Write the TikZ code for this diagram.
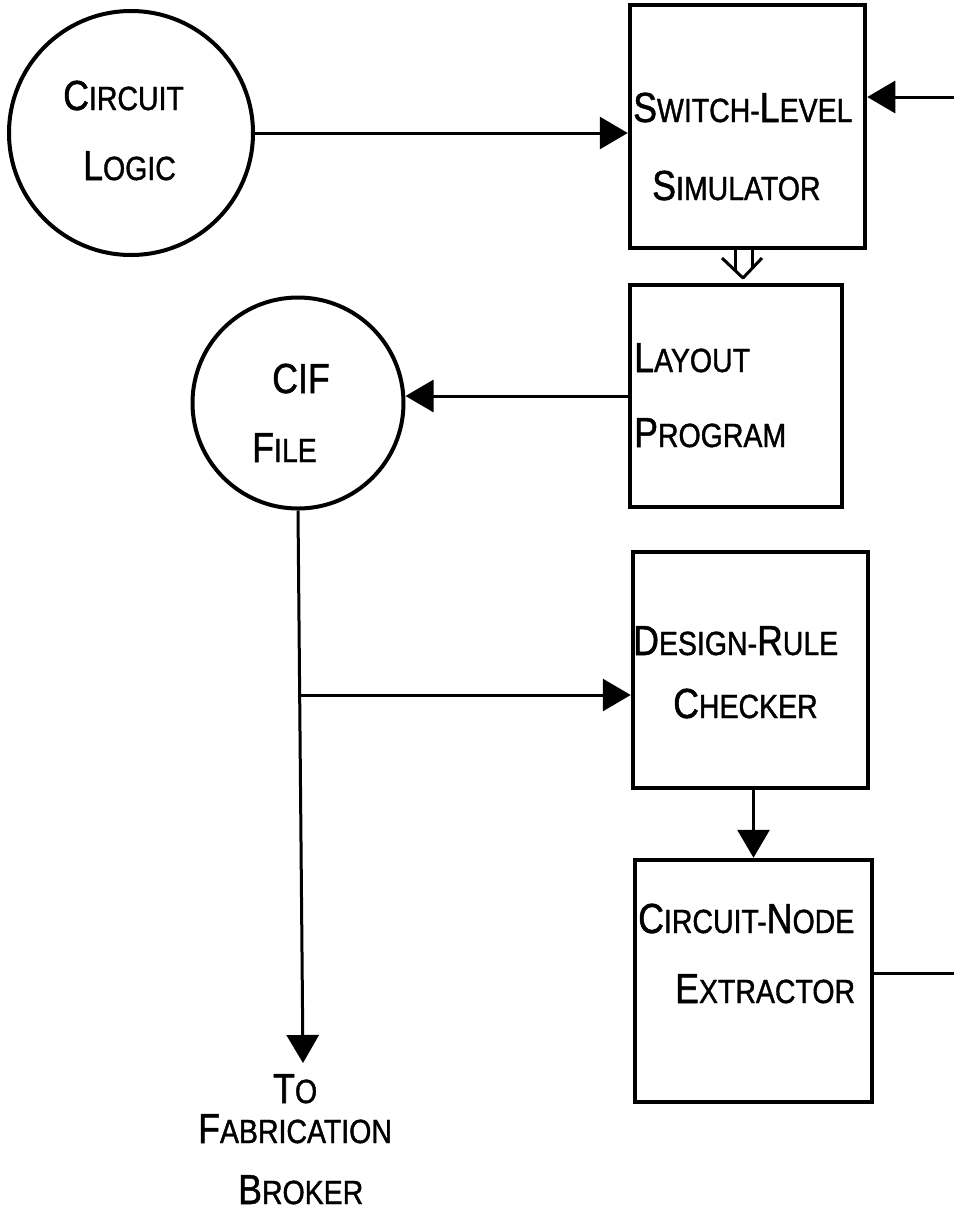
\documentclass[tikz,border=0pt]{standalone}
\usepackage{fontspec}
\setmainfont[FakeStretch=0.85,FakeBold=1.2]{Liberation Sans}
\usetikzlibrary{arrows.meta,calc}
\newcommand{\capx}[1]{{\fontsize{42}{44}\selectfont #1}}
\tikzset{
  unit/.style={rectangle,draw=black,line width=4.5pt,inner sep=0pt},
  store/.style={circle,draw=black,line width=4pt,inner sep=0pt},
  lbl/.style={anchor=base west,inner sep=0pt,font=\fontsize{33.5}{36}\selectfont},
  flow/.style={-{Triangle[length=28pt,width=32pt]},line width=3pt},
  lead/.style={line width=3pt},
}
\begin{document}
\begin{tikzpicture}[x=1pt,y=-1pt]
  \useasboundingbox (0,0) rectangle (954,1211);
  % stores and programs
  \node[store,minimum size=244pt] (logic) at (131,133) {};
  \node[store,minimum size=211pt] (cif) at (298,403) {};
  \node[unit,minimum width=235pt,minimum height=243pt] (sim) at (747.5,126.5) {};
  \node[unit,minimum width=212pt,minimum height=222pt] (layout) at (736,396) {};
  \node[unit,minimum width=235pt,minimum height=236pt] (drc) at (750.5,670) {};
  \node[unit,minimum width=237pt,minimum height=242pt] (extr) at (753.5,981) {};
  % labels
  \node[lbl] (logicA) at (63,110) {\capx{C}IRCUIT};
  \node[lbl] (logicB) at (83,180) {\capx{L}OGIC};
  \node[lbl] (cifA) at (272,393) {\capx{CIF}};
  \node[lbl] (cifB) at (252,462) {\capx{F}ILE};
  \node[lbl] (simA) at (633,122) {\capx{S}WITCH-\capx{L}EVEL};
  \node[lbl] (simB) at (652,200) {\capx{S}IMULATOR};
  \node[lbl] (layoutA) at (634,372) {\capx{L}AYOUT};
  \node[lbl] (layoutB) at (634,447) {\capx{P}ROGRAM};
  \node[lbl] (drcA) at (633,655) {\capx{D}ESIGN-\capx{R}ULE};
  \node[lbl] (drcB) at (673,718) {\capx{C}HECKER};
  \node[lbl] (extrA) at (638,933) {\capx{C}IRCUIT-\capx{N}ODE};
  \node[lbl] (extrB) at (675,1003) {\capx{E}XTRACTOR};
  \node[lbl] (toA) at (273,1103) {\capx{T}O};
  \node[lbl] (toB) at (198,1143) {\capx{F}ABRICATION};
  \node[lbl] (toC) at (238,1204) {\capx{B}ROKER};
  % free ends
  \coordinate (simin) at (954,97);
  \coordinate (extrout) at (954,973);
  \coordinate (fab) at (303,1063);
  \coordinate (tap) at (300.5,695);
  \coordinate (hol) at (743,250);
  % connectors
  \draw[flow] (logic.east) -- (logic.east -| sim.west);
  \draw[flow] (simin) -- (simin -| sim.east);
  \draw[flow] (layout.west) -- (layout.west -| cif.east);
  \draw[flow] (cif.south) -- (fab);
  \draw[flow] (tap) -- (tap -| drc.west);
  \draw[flow] (extr.north |- drc.south) -- (extr.north);
  \draw[lead] (extrout -| extr.east) -- (extrout);
  % hollow arrow between simulator and layout
  \draw[lead] (hol) ++(-8,0) -- ++(0,20);
  \draw[lead] (hol) ++(9,0) -- ++(0,18);
  \draw[lead,line join=round] (hol) ++(-21,8) -- ++(21,20) -- ++(19,-20);
\end{tikzpicture}
\end{document}
